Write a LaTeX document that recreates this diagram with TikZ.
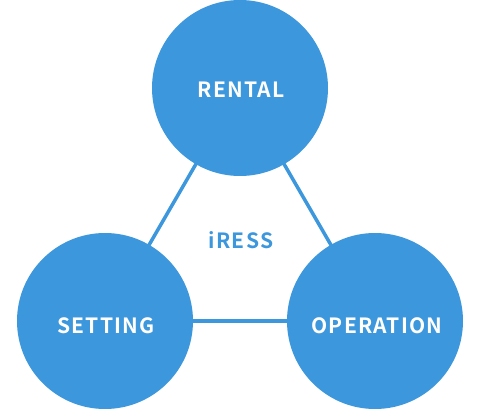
\documentclass[tikz,border=0pt]{standalone}
\usepackage{fontspec}
\setmainfont{Noto Sans CJK JP}[BoldFont={* Bold}]
\definecolor{iblue}{RGB}{61,151,220}
\begin{document}
\begin{tikzpicture}[x=1pt,y=-1pt,
  ball/.style={circle,fill=iblue,draw=none,minimum size=176pt,inner sep=0pt},
  link/.style={draw=iblue,line width=3.5pt},
  lbl/.style={text=white,font=\fontsize{21}{24}\selectfont\bfseries\addfontfeature{LetterSpace=6},inner sep=0pt,anchor=center},
  mid/.style={text=iblue,font=\fontsize{21}{24}\selectfont\bfseries\addfontfeature{LetterSpace=6},inner sep=0pt}]
\useasboundingbox (0,0) rectangle (480,410);
\coordinate (cr) at (240,88);
\coordinate (cs) at (105,321);
\coordinate (co) at (375,321);
\draw[link] (cr) -- (cs);
\draw[link] (cr) -- (co);
\draw[link] (cs) -- (co);
\node[ball] (rental) at (cr) {};
\node[ball] (setting) at (cs) {};
\node[ball] (operation) at (co) {};
\node[lbl] (rentaltxt) at (241,89.5) {RENTAL};
\node[lbl] (settingtxt) at (106,325.5) {SETTING};
\node[lbl] (operationtxt) at (377,325.5) {OPERATION};
\node[mid] (iress) at (241,240.5) {iRESS};
\end{tikzpicture}
\end{document}
